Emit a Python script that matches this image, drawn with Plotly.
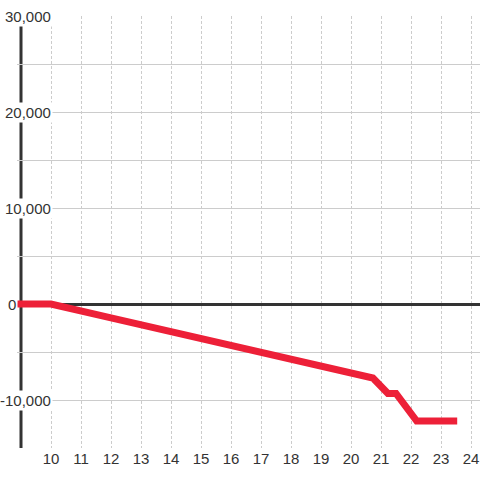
'''
    Line chart of a running balance that drops below zero.
'''
import plotly.graph_objects as go

# data
x_values = [8.87, 10, 12, 14, 16, 18, 20, 20.73, 21.23, 21.5, 22.19, 23.54]
y_values = [0, 0, -1450, -2900, -4330, -5750, -7150, -7708, -9323, -9323, -12190, -12190]

x_ticks = list(range(10, 25))
y_label_vals = [30000, 20000, 10000, 0, -10000]
y_label_text = ['30,000', '20,000', '10,000', '0', '-10,000']

RED = '#ED2038'
DARK = '#333333'
GRID = '#CCCCCC'

fig = go.Figure()
fig.add_trace(go.Scatter(x=x_values, y=y_values, mode='lines',
                         line=dict(color=RED, width=7), hoverinfo='skip'))

# left axis line sitting at x = 9
fig.add_shape(type='line', x0=9, x1=9, y0=0, y1=1, xref='x', yref='y domain',
              line=dict(color=DARK, width=3), layer='below')

# y labels with a white box, so they cut through the grid and axis line
for val, txt in zip(y_label_vals, y_label_text):
    fig.add_annotation(x=10.05 if val != 0 else 8.9, y=val, xref='x', yref='y',
                       text=txt, showarrow=False, xanchor='right', yanchor='middle',
                       bgcolor='white', borderpad=1,
                       font=dict(family='Liberation Sans, Arial', size=15, color=DARK))

fig.update_layout(
    width=480, height=480,
    margin=dict(l=17, r=0, t=16, b=32),
    paper_bgcolor='white', plot_bgcolor='white',
    showlegend=False,
    font=dict(family='Liberation Sans, Arial', size=15, color=DARK),
    xaxis=dict(range=[9 - 4 / 30, 9 - 4 / 30 + 463 / 30], tickvals=x_ticks,
               showgrid=True, gridcolor=GRID, griddash='3px,2px', gridwidth=1,
               zeroline=False, showline=False, ticks='',
               tickfont=dict(size=15, color=DARK)),
    yaxis=dict(range=[-15000, 30000], dtick=5000, showticklabels=False,
               showgrid=True, gridcolor=GRID, gridwidth=1,
               zeroline=True, zerolinecolor=DARK, zerolinewidth=3,
               showline=False, ticks=''),
)

# drop the page's default body margin so the chart sits at the window corner
fig.write_html('out.html', config={'displayModeBar': False},
               post_script="document.body.style.margin='0';")
